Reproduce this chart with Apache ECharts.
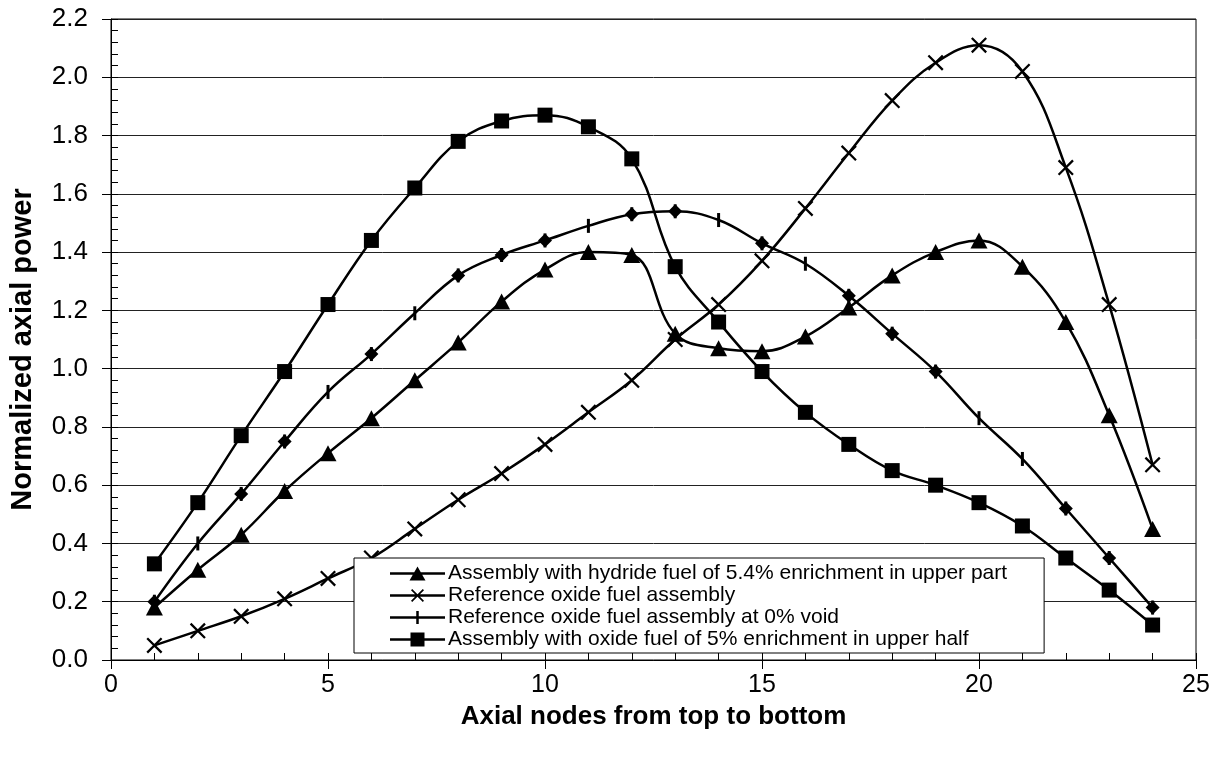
<!DOCTYPE html>
<html>
<head>
<meta charset="utf-8">
<script src="https://cdn.jsdelivr.net/npm/echarts@6/dist/echarts.min.js"></script>
<style>
  html, body { margin: 0; padding: 0; background: #fff; }
  #chart { width: 1225px; height: 760px; }
</style>
</head>
<body>
<div id="chart"></div>
<script>
// axial nodes 1..24
const nodes = [1, 2, 3, 4, 5, 6, 7, 8, 9, 10, 11, 12, 13, 14, 15, 16, 17, 18, 19, 20, 21, 22, 23, 24]
const hydrideUpper = [0.18, 0.31, 0.43, 0.58, 0.71, 0.83, 0.96, 1.09, 1.23, 1.34, 1.40, 1.39, 1.12, 1.07, 1.06, 1.11, 1.21, 1.32, 1.40, 1.44, 1.35, 1.16, 0.84, 0.45]
const refOxide = [0.05, 0.10, 0.15, 0.21, 0.28, 0.35, 0.45, 0.55, 0.64, 0.74, 0.85, 0.96, 1.10, 1.22, 1.37, 1.55, 1.74, 1.92, 2.05, 2.11, 2.02, 1.69, 1.22, 0.67]
const refOxideVoid0 = [0.20, 0.40, 0.57, 0.75, 0.92, 1.05, 1.19, 1.32, 1.39, 1.44, 1.49, 1.53, 1.54, 1.51, 1.43, 1.36, 1.25, 1.12, 0.99, 0.83, 0.69, 0.52, 0.35, 0.18]
// nodes where the diamond markers show over the 0% void curve
const diamondNodes = [1, 3, 4, 6, 8, 9, 10, 12, 13, 15, 17, 18, 19, 22, 23, 24]
const oxideUpperHalf = [0.33, 0.54, 0.77, 0.99, 1.22, 1.44, 1.62, 1.78, 1.85, 1.87, 1.83, 1.72, 1.35, 1.16, 0.99, 0.85, 0.74, 0.65, 0.60, 0.54, 0.46, 0.35, 0.24, 0.12]

const seriesNames = [
  'Assembly with hydride fuel of 5.4% enrichment in upper part',
  'Reference oxide fuel assembly',
  'Reference oxide fuel assembly at 0% void',
  'Assembly with oxide fuel of 5% enrichment in upper half'
]

const FONT = '"Liberation Sans", Arial, sans-serif'
const crossPath = 'path://M0,1 L1,0 L10,9 L9,10 Z M9,0 L10,1 L1,10 L0,9 Z'
const barPath = 'path://M0,0 L2,0 L2,12 L0,12 Z'

// legend icons: line sample with the marker in the middle (55 x 16 box)
const legLine = 'M0,6.75 L55,6.75 L55,9.25 L0,9.25 Z'
const legendIcons = [
  'path://' + legLine + ' M27.5,1 L35.5,15 L19.5,15 Z',
  'path://' + legLine + ' M21,2.7 L22.2,1.5 L34,13.3 L32.8,14.5 Z M32.8,1.5 L34,2.7 L22.2,14.5 L21,13.3 Z',
  'path://' + legLine + ' M26.25,1.5 L28.75,1.5 L28.75,14.5 L26.25,14.5 Z',
  'path://' + legLine + ' M20.5,1 L34.5,1 L34.5,15 L20.5,15 Z'
]

function pairs(vals) {
  return nodes.map((n, i) => [n, vals[i]])
}

function lineSeries(name, vals, symbol, size) {
  return {
    name: name,
    type: 'line',
    data: pairs(vals),
    smooth: 0.4,
    symbol: symbol,
    symbolSize: size,
    showAllSymbol: true,
    lineStyle: { color: '#000', width: 2.5 },
    itemStyle: { color: '#000', opacity: 1 },
    emphasis: { disabled: true }
  }
}

const chart = echarts.init(document.getElementById('chart'))
chart.setOption({
  backgroundColor: '#fff',
  animation: false,
  textStyle: { fontFamily: FONT },
  grid: {
    left: 110, right: 29, top: 19, bottom: 100,
    show: true, borderColor: '#000', borderWidth: 1
  },
  legend: {
    data: seriesNames.map((n, i) => ({ name: n, icon: legendIcons[i] })),
    orient: 'vertical',
    left: 354,
    top: 558,
    backgroundColor: '#fff',
    borderColor: '#000',
    borderWidth: 1,
    borderRadius: 0,
    padding: [5, 37, 3, 36],
    itemGap: 1,
    itemWidth: 55,
    itemHeight: 16,
    symbolKeepAspect: true,
    selectedMode: false,
    itemStyle: { color: '#000', borderWidth: 0 },
    textStyle: { fontFamily: FONT, fontSize: 21, color: '#000', lineHeight: 21, padding: [0, 0, 0, -2] }
  },
  xAxis: [
    {
      type: 'value', min: 0, max: 25, interval: 5,
      name: 'Axial nodes from top to bottom',
      nameLocation: 'middle', nameGap: 44,
      nameTextStyle: { fontFamily: FONT, fontSize: 26, fontWeight: 'bold', color: '#000' },
      axisLine: { show: true, onZero: false, lineStyle: { color: '#000', width: 1 } },
      axisTick: { show: true, inside: false, length: 9, lineStyle: { color: '#000' } },
      axisLabel: { fontFamily: FONT, fontSize: 25, color: '#000', margin: 13 },
      splitLine: { show: false }
    },
    {
      type: 'value', min: 0, max: 25, interval: 1, position: 'bottom', offset: 0,
      axisLine: { show: false },
      axisTick: { show: true, inside: true, length: 7, lineStyle: { color: '#000' } },
      axisLabel: { show: false },
      splitLine: { show: false }
    }
  ],
  yAxis: [
    {
      type: 'value', min: 0, max: 2.2, interval: 0.2,
      name: 'Normalized axial power',
      nameLocation: 'middle', nameGap: 74,
      nameTextStyle: {
        fontFamily: FONT, fontSize: 29, fontWeight: 'bold', color: '#000',
        padding: [0, 20, 0, 0]
      },
      axisLine: { show: true, onZero: false, lineStyle: { color: '#000', width: 1 } },
      axisTick: { show: true, inside: false, length: 9, lineStyle: { color: '#000' } },
      axisLabel: {
        fontFamily: FONT, fontSize: 26, color: '#000', margin: 23,
        formatter: v => v.toFixed(1)
      },
      splitLine: { show: true, lineStyle: { color: '#222', width: 1 } }
    },
    {
      type: 'value', min: 0, max: 2.2, interval: 0.04, position: 'left', offset: 0,
      axisLine: { show: false },
      axisTick: { show: true, inside: true, length: 7, lineStyle: { color: '#000' } },
      axisLabel: { show: false },
      splitLine: { show: false }
    }
  ],
  series: [
    lineSeries(seriesNames[0], hydrideUpper, 'triangle', [17, 16]),
    lineSeries(seriesNames[1], refOxide, crossPath, 16),
    lineSeries(seriesNames[2], refOxideVoid0, barPath, [3, 14]),
    {
      name: 'void0 diamonds',
      type: 'scatter',
      data: diamondNodes.map(n => [n, refOxideVoid0[n - 1]]),
      symbol: 'diamond',
      symbolSize: 14,
      itemStyle: { color: '#000', opacity: 1 },
      emphasis: { disabled: true },
      z: 3
    },
    lineSeries(seriesNames[3], oxideUpperHalf, 'rect', 15)
  ]
})
window.addEventListener('resize', () => {
  chart.resize()
})
</script>
</body>
</html>
